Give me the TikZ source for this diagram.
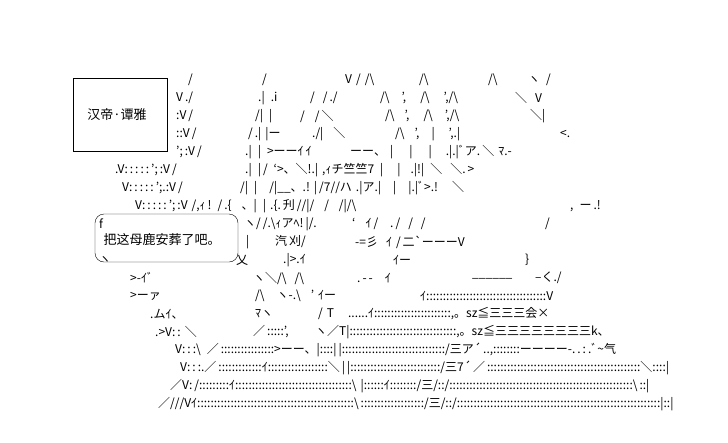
\documentclass[tikz,border=0pt]{standalone}
\usepackage{fontspec}
\setmainfont{Noto Sans CJK JP}
\begin{document}
\begin{tikzpicture}[x=1pt,y=-1pt,
  aa/.style={anchor=west,inner sep=0pt,font=\fontsize{12}{12}\selectfont},
  lbl/.style={font=\fontsize{13}{13}\selectfont}]
\useasboundingbox (0,0) rectangle (728,442);
\newcommand\A[3]{\node[aa] at (#1,#2) {#3};}
\draw (73,78) rectangle (167,151);
\node[lbl] (t1) at (117,115) {汉帝·谭雅};
\draw[rounded corners=9pt] (95,214) rectangle (238,262);
\node[lbl] (t2) at (162,240) {把这母鹿安葬了吧。};
\A{188}{80}{/}\A{262}{80}{/}\A{345}{80}{V\,\,/\,\,/\textbackslash}\A{419}{80}{/\textbackslash}\A{488}{80}{/\textbackslash}\A{528}{80}{ヽ\,\,\,/}
\A{176}{98}{V\,./}\A{258}{98}{.|\,\,\,.i}\A{310}{98}{/\,\,\,\,/\,./}\A{380}{98}{/\textbackslash\,\,\,\,\,\,'\!,\,\,\,\,\,\,\,/\textbackslash\,\,\,\,\,\,\,',/\textbackslash}\A{515}{98}{＼\,\,\,\,V}
\A{176}{116}{:V\,/}\A{255}{116}{/|\,\,\,|}\A{300}{116}{/\,\,\,\,\,/\,＼}\A{385}{116}{/\textbackslash\,\,\,\,\,',\,\,\,\,\,\,\,/\textbackslash\,\,\,\,\,\,',/\textbackslash}\A{530}{116}{＼|}
\A{176}{134}{::V\,/}\A{248}{134}{/\,.|\,\,|ー}\A{312}{134}{./|\,\,\,\,\,＼}\A{395}{134}{/\textbackslash\,\,\,\,\,',\,\,\,\,\,\,|\,\,\,\,\,\,\,',.|}\A{560}{134}{<.}
\A{176}{152}{';\,:V\,/}\A{245}{152}{.|\,\,\,|\,\,\,>ーーｲ\,ｲ}\A{350}{152}{ーー、\,\,|\,\,\,\,\,\,\,\,|\,\,\,\,\,\,\,\,|\,\,\,\,\,\,\,.|.|ﾞア.\,＼\,\,ﾏ.-}
\A{115}{170}{.V:\,:\,:\,:\,:\,';\,:V\,/}\A{245}{170}{.|\,\,\,|\,/\,\,\,`>、＼!.|\,\,,ｨチ竺竺7\,\,\,|\,\,\,\,\,\,\,|\,\,\,\,\,.|!|\,\,\,＼\,\,\,\,＼.\,>}
\A{122}{188}{V:\,:\,:\,:\,:\,';.:V\,/}\A{240}{188}{/|\,\,\,|\,\,\,\,\,\,/|\_\_、.!\,\,|\,/7//ハ\,\,.|ア.|\,\,\,\,\,\,|\,\,\,\,\,\,|.|ﾞ>.!\,\,\,\,\,\,\,＼}
\A{135}{206}{V:\,:\,:\,:\,:\,';\,:V\,\,/,ｨ\,!\,\,\,/\,.\{\,\,\,\,\,、|\,\,\,|\,\,.\{.\,刋\,//|/\,\,\,\,\,/\,\,\,\,\,/|/\textbackslash}\A{570}{206}{,\,\,\,ー\,.!}
\A{99}{224}{f}\A{244}{224}{ヽ/\,/.\textbackslash ｨアﾍ!\,|/.}\A{352}{224}{`\,\,\,\,\,ｲ\,/\,\,\,\,\,\,.\,/\,\,\,\,/\,\,\,\,/}\A{545}{224}{/}
\A{246}{242}{|}\A{275}{242}{汽\,刈/}\A{355}{242}{-=彡\,\,\,\,ｲ\,\,/\,二\textasciigrave ーーーV}
\A{99}{260}{ヽ}\A{236}{260}{乂}\A{283}{260}{.|>.ｲ}\A{393}{260}{ｲー}\A{525}{260}{\}}
\A{130}{278}{>-ｲﾞ}\A{253}{278}{ヽ＼/\textbackslash\,\,\,\,/\textbackslash}\A{357}{278}{.\,-\,-\,\,\,\,\,\,ｲ}\A{472}{278}{\_\_\_\_\_\_}\A{535}{278}{--く./}
\A{130}{296}{>ーァ}\A{255}{296}{/\textbackslash\,\,\,\,\,\,ヽ-.\textbackslash\,\,\,\,\,'\,\,ｲー}\A{420}{296}{ｲ::::::::::::::::::::::::::::::::::::V}
\A{150}{314}{.ムｲ、}\A{255}{314}{ﾏヽ}\A{318}{314}{/\,\,T\,\,\,\,\,\,\,......ｲ:::::::::::::::::::::::,。sz≦三三三会×}
\A{155}{332}{.>V:\,:\,\,＼}\A{253}{332}{／\,:::::',}\A{315}{332}{ヽ／T|::::::::::::::::::::::::::::::::,。sz≦三三三三三三三三k、}
\A{175}{350}{V:\,:\,:\textbackslash\,\,\,／\,::::::::::::::::>ーー、|::::|\,|:::::::::::::::::::::::::::::::/三ア´\,..,::::::::ーーーー-.\,.\,:\,.ﾞ\textasciitilde 气}
\A{180}{368}{V:\,:\,:.／\,:::::::::::::ｲ::::::::::::::::::＼\,|\,|:::::::::::::::::::::::::::/三7´\,／\,::::::::::::::::::::::::::::::::::::::::::::::＼::::|}
\A{170}{386}{／V:\,/:::::::::ｲ:::::::::::::::::::::::::::::::::::\textbackslash\,\,|::::::ｲ::::::::/三/::/:::::::::::::::::::::::::::::::::::::::::::::::::::::::\textbackslash\,::|}
\A{158}{404}{／///Vｲ:::::::::::::::::::::::::::::::::::::::::::::::\textbackslash\,:::::::::::::::::::/三/::/:::::::::::::::::::::::::::::::::::::::::::::::::::::::::::::|::|}
\end{tikzpicture}
\end{document}
